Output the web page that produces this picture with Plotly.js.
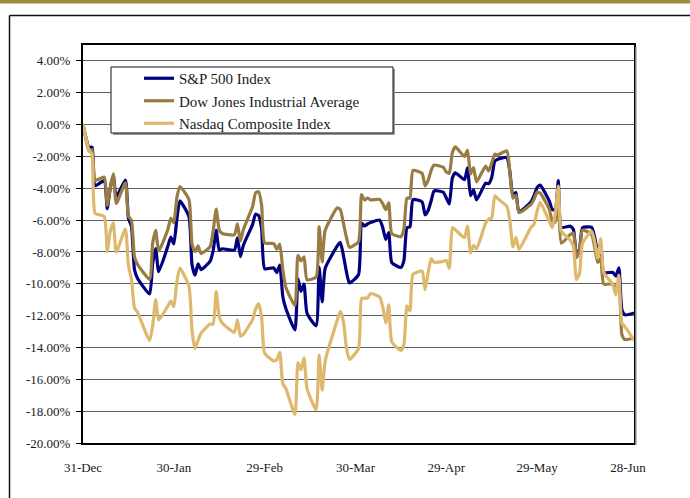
<!DOCTYPE html>
<html>
<head>
<meta charset="utf-8">
<script src="https://cdn.plot.ly/plotly-3.0.1.min.js"></script>
<style>html,body{margin:0;padding:0;background:#fff;}#chart{width:690px;height:498px;}</style>
</head>
<body>
<div id="chart"></div>
<script>
const dates = ['2007-12-31','2008-01-02','2008-01-03','2008-01-04','2008-01-07','2008-01-08','2008-01-09','2008-01-10','2008-01-11','2008-01-14','2008-01-15','2008-01-16','2008-01-17','2008-01-18','2008-01-22','2008-01-23','2008-01-24','2008-01-25','2008-01-28','2008-01-29','2008-01-30','2008-01-31','2008-02-01','2008-02-04','2008-02-05','2008-02-06','2008-02-07','2008-02-08','2008-02-11','2008-02-12','2008-02-13','2008-02-14','2008-02-15','2008-02-19','2008-02-20','2008-02-21','2008-02-22','2008-02-25','2008-02-26','2008-02-27','2008-02-28','2008-02-29','2008-03-03','2008-03-04','2008-03-05','2008-03-06','2008-03-07','2008-03-10','2008-03-11','2008-03-12','2008-03-13','2008-03-14','2008-03-17','2008-03-18','2008-03-19','2008-03-20','2008-03-24','2008-03-25','2008-03-26','2008-03-27','2008-03-28','2008-03-31','2008-04-01','2008-04-02','2008-04-03','2008-04-04','2008-04-07','2008-04-08','2008-04-09','2008-04-10','2008-04-11','2008-04-14','2008-04-15','2008-04-16','2008-04-17','2008-04-18','2008-04-21','2008-04-22','2008-04-23','2008-04-24','2008-04-25','2008-04-28','2008-04-29','2008-04-30','2008-05-01','2008-05-02','2008-05-05','2008-05-06','2008-05-07','2008-05-08','2008-05-09','2008-05-12','2008-05-13','2008-05-14','2008-05-15','2008-05-16','2008-05-19','2008-05-20','2008-05-21','2008-05-22','2008-05-23','2008-05-27','2008-05-28','2008-05-29','2008-05-30','2008-06-02','2008-06-03','2008-06-04','2008-06-05','2008-06-06','2008-06-09','2008-06-10','2008-06-11','2008-06-12','2008-06-13','2008-06-16','2008-06-17','2008-06-18','2008-06-19','2008-06-20','2008-06-23','2008-06-24','2008-06-25','2008-06-26','2008-06-27','2008-06-30'];

const sp500 = [0, -1.43, -1.42, -3.84, -3.52, -5.28, -3.98, -3.21, -4.53, -3.48,
-5.87, -6.39, -9.10, -9.65, -10.64, -8.72, -7.79, -9.24, -7.65, -7.07,
-7.50, -5.95, -4.79, -5.78, -8.78, -9.46, -8.74, -9.11, -8.58, -7.91,
-6.65, -7.89, -7.80, -7.88, -7.11, -8.29, -7.56, -6.28, -5.63, -5.71,
-6.54, -9.05, -9.00, -9.30, -8.82, -10.81, -11.55, -12.90, -9.68, -10.48,
-10.01, -11.86, -12.64, -8.95, -11.14, -9.02, -7.62, -7.40, -8.20, -9.24,
-9.95, -9.43, -6.19, -6.37, -6.24, -6.15, -6.00, -6.46, -7.21, -6.79,
-8.67, -8.97, -8.54, -6.48, -6.41, -4.71, -4.85, -5.67, -5.40, -4.79,
-4.16, -4.25, -4.61, -4.98, -3.35, -3.03, -3.46, -2.71, -4.46, -4.10,
-4.73, -3.68, -3.71, -3.33, -2.30, -2.17, -2.07, -2.96, -4.51, -4.25,
-5.49, -4.84, -4.46, -3.95, -3.80, -4.79, -5.33, -5.35, -3.52, -6.46,
-6.38, -6.60, -8.15, -7.85, -6.47, -6.45, -7.07, -7.95, -7.61, -9.29,
-9.28, -9.52, -8.99, -11.63, -11.95, -11.83];

const dow = [0, -1.66, -1.57, -3.50, -3.30, -5.08, -3.98, -3.09, -4.95, -3.66,
-5.75, -6.01, -8.31, -8.77, -9.72, -7.47, -6.65, -7.94, -6.61, -5.88,
-6.16, -4.59, -3.89, -4.71, -7.49, -7.98, -7.62, -8.10, -7.67, -6.66,
-5.31, -6.62, -6.84, -6.92, -6.24, -7.31, -6.58, -5.16, -4.29, -4.21,
-5.06, -7.43, -7.48, -7.82, -7.50, -9.12, -10.22, -11.36, -8.22, -8.56,
-8.30, -9.75, -9.58, -6.41, -8.62, -6.64, -5.23, -5.34, -6.17, -7.07,
-7.71, -7.36, -4.40, -4.74, -4.61, -4.73, -4.70, -4.97, -5.34, -4.92,
-6.85, -7.03, -6.56, -4.62, -4.61, -2.88, -3.06, -3.85, -3.51, -2.87,
-2.54, -2.68, -2.98, -3.06, -1.75, -1.40, -2.00, -1.60, -3.10, -2.70,
-3.60, -2.60, -2.92, -2.42, -1.85, -1.90, -1.65, -3.00, -4.62, -4.44,
-5.53, -5.00, -4.68, -4.25, -4.30, -5.30, -6.05, -6.12, -4.50, -7.45,
-6.90, -6.82, -8.35, -7.90, -6.62, -6.90, -7.70, -8.65, -8.38, -10.02,
-10.00, -10.25, -10.20, -13.20, -13.50, -13.40];

const nasdaq = [0, -1.61, -1.87, -5.57, -5.76, -7.98, -6.70, -6.17, -8.01, -6.56,
-8.85, -9.72, -11.51, -11.77, -13.57, -12.66, -10.99, -12.29, -11.40, -11.09,
-11.44, -9.89, -9.01, -10.16, -12.92, -14.08, -13.55, -13.10, -12.53, -12.53,
-10.49, -12.06, -12.46, -13.05, -12.26, -13.29, -13.16, -12.25, -11.59, -11.25,
-12.09, -14.36, -14.84, -14.78, -14.31, -16.28, -16.58, -18.21, -14.95, -15.40,
-14.65, -16.58, -17.92, -14.48, -16.68, -14.86, -12.27, -11.73, -12.36, -14.00,
-14.75, -14.07, -10.92, -10.90, -10.90, -10.61, -10.84, -11.44, -12.45, -11.33,
-13.65, -14.19, -13.81, -11.39, -11.71, -9.40, -9.21, -10.38, -9.31, -8.42,
-8.65, -8.59, -8.53, -9.03, -6.47, -6.61, -7.10, -6.37, -8.06, -7.58,
-7.80, -6.18, -5.93, -5.87, -4.47, -4.65, -5.14, -6.03, -7.69, -7.08,
-7.83, -6.45, -6.24, -5.43, -4.89, -6.06, -6.48, -5.62, -3.86, -6.70,
-7.27, -7.67, -9.74, -9.35, -7.46, -6.69, -7.33, -8.39, -7.17, -9.28,
-10.05, -10.71, -9.46, -12.48, -12.69, -13.55];

const seriesNames = ['S&P 500 Index', 'Dow Jones Industrial Average', 'Nasdaq Composite Index'];
const xTickVals = ['2007-12-31','2008-01-30','2008-02-29','2008-03-30','2008-04-29','2008-05-29','2008-06-28'];
const xTickText = ['31-Dec','30-Jan','29-Feb','30-Mar','29-Apr','29-May','28-Jun'];
const yTickVals = [-20,-18,-16,-14,-12,-10,-8,-6,-4,-2,0,2,4];
const yTickText = ['-20.00%','-18.00%','-16.00%','-14.00%','-12.00%','-10.00%','-8.00%','-6.00%','-4.00%','-2.00%','0.00%','2.00%','4.00%'];

const colors = ['#000080', '#987C42', '#DEB86C'];
const seriesData = [sp500, dow, nasdaq];

const traces = seriesData.map((ys, i) => ({
  type: 'scatter', mode: 'lines', x: dates, y: ys, name: seriesNames[i],
  line: {color: colors[i], width: 3.2, shape: 'spline', smoothing: 0.5}
}));

// pixel -> paper helpers for decorations (plot area 83..634 x, 45..443 y)
const L = 83, R = 634, T = 45, B = 443;
const px = v => (v - L) / (R - L);
const py = v => (B - v) / (B - T);

const shapes = [
  {type:'rect', xref:'paper', yref:'paper', x0:px(-5), x1:px(700), y0:py(3.5), y1:py(-5), fillcolor:'#9E8E3C', line:{width:0}, layer:'above'},
  {type:'line', xref:'paper', yref:'paper', x0:px(9.5), x1:px(9.5), y0:py(15.5), y1:py(510), line:{color:'#111', width:1.5}},
  {type:'line', xref:'paper', yref:'paper', x0:px(9.5), x1:px(700), y0:py(15.5), y1:py(15.5), line:{color:'#111', width:1.5}},
  {type:'line', xref:'paper', yref:'paper', x0:px(636), x1:px(636), y0:py(47), y1:py(445), line:{color:'#aaa', width:1.5}},
  {type:'rect', xref:'paper', yref:'paper', x0:px(113), x1:px(395), y0:py(135), y1:py(69), fillcolor:'#9a9a9a', line:{width:0}, layer:'above'},
  {type:'rect', xref:'paper', yref:'paper', x0:px(111), x1:px(393), y0:py(133), y1:py(67), fillcolor:'#ffffff', line:{color:'#111', width:1}, layer:'above'}
];

const layout = {
  width: 690, height: 498,
  margin: {l: L, r: 690 - R, t: T, b: 498 - B, pad: 0},
  paper_bgcolor: '#ffffff', plot_bgcolor: '#ffffff',
  font: {family: '"Liberation Serif", "Times New Roman", serif', color: '#1a1a1a', size: 13},
  showlegend: true,
  legend: {x: px(139), y: py(62), xanchor: 'left', yanchor: 'top', bgcolor: 'rgba(0,0,0,0)', borderwidth: 0,
           font: {size: 15, color: '#1a1a1a'}, tracegroupgap: 0},
  xaxis: {type: 'date', range: ['2007-12-31', '2008-06-30'], tickvals: xTickVals, ticktext: xTickText,
          showgrid: false, showline: true, linecolor: '#000', linewidth: 2, mirror: true,
          ticks: '', ticklabelstandoff: 11, zeroline: false, tickfont: {size: 13}, fixedrange: true},
  yaxis: {range: [-20, 5], tickvals: yTickVals, ticktext: yTickText, showgrid: true, gridcolor: '#5e5e5e', gridwidth: 1,
          showline: true, linecolor: '#000', linewidth: 2, mirror: true, ticks: 'outside', ticklen: 5,
          tickcolor: '#000', tickwidth: 1, zeroline: false, tickfont: {size: 13}, ticklabelstandoff: 3, fixedrange: true},
  shapes: shapes
};

Plotly.newPlot('chart', traces, layout, {displayModeBar: false, staticPlot: true});
</script>
</body>
</html>
